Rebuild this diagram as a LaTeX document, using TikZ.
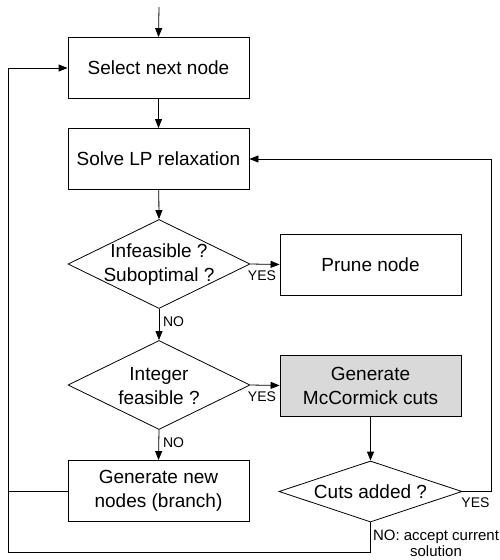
\documentclass[tikz,border=0pt]{standalone}
\usepackage{fontspec}
\setmainfont{Liberation Sans}
\usetikzlibrary{shapes.geometric,arrows.meta}
\begin{document}
\begin{tikzpicture}[x=1pt,y=-1pt,
  every node/.style={inner sep=0pt},
  box/.style={draw, line width=0.8pt, minimum width=181pt, minimum height=61pt, align=center,
    font=\fontsize{19}{24}\selectfont},
  dia/.style={draw, line width=0.8pt, diamond, minimum width=182pt, minimum height=89pt},
  diatext/.style={align=center, font=\fontsize{19}{24}\selectfont},
  lbl/.style={font=\fontsize{14}{16}\selectfont, align=center},
  conn/.style={line width=0.8pt},
  arr/.style={conn, -{Triangle[length=9pt,width=7pt]}}]
\useasboundingbox (0,0) rectangle (500,560);
\coordinate (start) at (159,7);
\node[box] (sel) at (158.5,68) {Select next node};
\node[box] (lp) at (158.5,159) {Solve LP relaxation};
\node[dia] (d1) at (159,264) {};
\node[diatext] (d1t) at (159,265) {Infeasible ?\\Suboptimal ?};
\node[box] (prune) at (370.5,264.5) {Prune node};
\node[dia] (d2) at (159,385) {};
\node[diatext] (d2t) at (159,386) {Integer\\feasible ?};
\node[box, fill=gray!30] (mcc) at (370.5,385.5) {Generate\\McCormick cuts};
\node[box] (gen) at (158.5,491) {Generate new\\nodes (branch)};
\node[dia, minimum height=61pt, minimum width=183pt] (d3) at (370.5,491.5) {};
\node[diatext] (d3t) at (370.5,491.5) {Cuts added ?};
\coordinate (lx) at (8,491);
\coordinate (rx) at (491,491.5);
\coordinate (bx) at (370.5,552);
\node[lbl] (y1) at (262,276) {YES};
\node[lbl] (y2) at (262,397) {YES};
\node[lbl] (y3) at (475.5,503) {YES};
\node[lbl] (n1) at (173.5,321.5) {NO};
\node[lbl] (n2) at (173.5,443) {NO};
\node[lbl, font=\fontsize{15}{16}\selectfont] (n3) at (436,543.5) {NO: accept current\\solution};
\draw[arr] (start) -- (sel.north);
\draw[arr] (sel) -- (lp);
\draw[arr] (lp) -- (d1.north);
\draw[arr] (d1.east) -- (prune.west);
\draw[arr] (d1.south) -- (d2.north);
\draw[arr] (d2.east) -- (mcc.west);
\draw[arr] (d2.south) -- (gen.north);
\draw[arr] (mcc.south) -- (d3.north);
\draw[arr] (gen.west) -- (lx) |- (sel.west);
\draw[conn] (d3.south) -- (bx) -| (lx);
\draw[arr] (d3.east) -- (rx) |- (lp.east);
\end{tikzpicture}
\end{document}
